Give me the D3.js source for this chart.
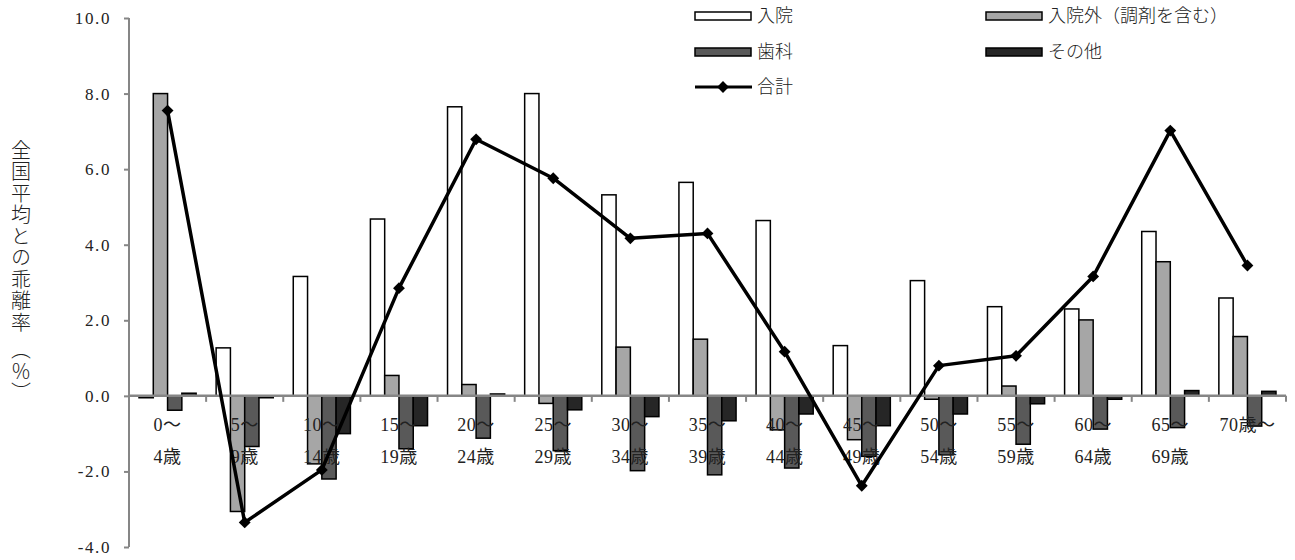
<!DOCTYPE html>
<html>
<head>
<meta charset="utf-8">
<script src="https://cdn.jsdelivr.net/npm/d3@7"></script>
<style>
  html, body { margin: 0; padding: 0; background: #fff; }
  svg { display: block; }
  svg text { font-family: "Liberation Serif", "DejaVu Serif", "Noto Sans CJK JP", serif; fill: #222; }
</style>
</head>
<body>
<svg id="chart" width="1295" height="560"></svg>
<script>
// ---- data ----
const labelLine1 = ["0～","5～","10～","15～","20～","25～","30～","35～","40～","45～","50～","55～","60～","65～","70歳～"];
const labelLine2 = ["4歳","9歳","14歳","19歳","24歳","29歳","34歳","39歳","44歳","49歳","54歳","59歳","64歳","69歳",""];
const seriesNames = ["入院","入院外（調剤を含む）","歯科","その他"];
const lineName = "合計";
const nyuin  = [-0.05, 1.27, 3.16, 4.68, 7.65, 8.00, 5.32, 5.65, 4.64, 1.33, 3.05, 2.36, 2.30, 4.35, 2.59];
const gairai = [ 8.00,-3.06,-1.80, 0.54, 0.30,-0.20, 1.29, 1.50,-0.90,-1.16,-0.09, 0.26, 2.01, 3.55, 1.57];
const shika  = [-0.38,-1.34,-2.20,-1.40,-1.12,-1.45,-1.98,-2.09,-1.91,-1.60,-1.56,-1.28,-0.88,-0.84,-0.80];
const sonota = [ 0.07,-0.05,-1.00,-0.79, 0.05,-0.37,-0.55,-0.66,-0.48,-0.79,-0.48,-0.21,-0.09, 0.14, 0.12];
const total  = [ 7.55,-3.35,-1.96, 2.85, 6.79, 5.76, 4.17, 4.30, 1.17,-2.38, 0.80, 1.06, 3.16, 7.02, 3.45];
const yTicks = [-4, -2, 0, 2, 4, 6, 8, 10];
const yTitle = "全国平均との乖離率 （％）";

(function () {
const seriesValues = [nyuin, gairai, shika, sonota];
const colors = ["#ffffff", "#a6a6a6", "#595959", "#262626"];
const cats = labelLine1.map((d, i) => i);
const serif = "'Liberation Serif', 'DejaVu Serif', 'Noto Sans CJK JP', serif";

const svg = d3.select("#chart");
const mLeft = 129, mRight = 1286, mTop = 18, mBottom = 547;

const x0 = d3.scaleBand().domain(cats).range([mLeft, mRight]).padding(0);
const x1 = d3.scaleBand().domain(d3.range(4)).range([0, x0.bandwidth()]).paddingInner(0).paddingOuter(0.7);
const y = d3.scaleLinear().domain([-4, 10]).range([mBottom, mTop]);

const axisColor = "#868686";

// y-axis title (vertical)
svg.append("text")
  .attr("x", 21).attr("y", 140)
  .style("writing-mode", "vertical-rl")
  .style("font-family", "'Noto Sans CJK JP', sans-serif")
  .style("font-size", "20px")
  .style("font-weight", "300")
  .style("letter-spacing", "1.5px")
  .attr("fill", "#333")
  .text(yTitle);

// y axis
const yAxis = svg.append("g").attr("transform", `translate(${mLeft},0)`)
  .call(d3.axisLeft(y).tickValues(yTicks).tickSize(5).tickPadding(13).tickFormat(d3.format(".1f")));
yAxis.attr("font-family", null);
yAxis.select(".domain").attr("stroke", axisColor).attr("stroke-width", 2).attr("d", `M0,${mTop}V${mBottom}`);
yAxis.selectAll(".tick line").attr("stroke", axisColor).attr("stroke-width", 2);
yAxis.selectAll(".tick text")
  .style("font-family", serif)
  .style("font-size", "17px")
  .style("letter-spacing", "1.6px")
  .attr("fill", "#333")
  .text(d => d < 0 ? "-" + d3.format(".1f")(-d) : d3.format(".1f")(d));

// bars
const barG = svg.append("g");
seriesValues.forEach((vals, s) => {
  barG.selectAll(null).data(vals).enter().append("rect")
    .attr("x", (d, i) => x0(i) + x1(s))
    .attr("width", x1.bandwidth())
    .attr("y", d => y(Math.max(0, d)))
    .attr("height", d => Math.abs(y(d) - y(0)))
    .attr("fill", colors[s])
    .attr("stroke", "#000")
    .attr("stroke-width", 1.5);
});

// x axis (zero line) with ticks at category boundaries
const xAxisG = svg.append("g");
xAxisG.append("line").attr("x1", mLeft).attr("x2", mRight).attr("y1", y(0)).attr("y2", y(0))
  .attr("stroke", axisColor).attr("stroke-width", 2.5);
const bounds = cats.map(i => x0(i) + x0.bandwidth());
xAxisG.selectAll(null).data(bounds).enter().append("line")
  .attr("x1", d => d).attr("x2", d => d).attr("y1", y(0)).attr("y2", y(0) + 6)
  .attr("stroke", axisColor).attr("stroke-width", 2);

// x labels (over bars)
const xl = svg.append("g");
cats.forEach(i => {
  const cx = x0(i) + x0.bandwidth() / 2;
  xl.append("text").attr("x", cx).attr("y", 431).attr("text-anchor", "middle")
    .style("font-family", serif)
    .style("font-size", "18px").style("letter-spacing", "0.5px").text(labelLine1[i]);
  if (labelLine2[i]) {
    xl.append("text").attr("x", cx).attr("y", 463).attr("text-anchor", "middle")
      .style("font-family", serif)
      .style("font-size", "18px").style("letter-spacing", "0.5px").text(labelLine2[i]);
  }
});

// line
const lineGen = d3.line().x((d, i) => x0(i) + x0.bandwidth() / 2).y(d => y(d));
svg.append("path").datum(total).attr("d", lineGen)
  .attr("fill", "none").attr("stroke", "#000").attr("stroke-width", 3.5).attr("stroke-linejoin", "round");
const sym = d3.symbol().type(d3.symbolSquare).size(70);
svg.selectAll(null).data(total).enter().append("path")
  .attr("d", sym)
  .attr("transform", (d, i) => `translate(${x0(i) + x0.bandwidth() / 2},${y(d)}) rotate(45)`)
  .attr("fill", "#000");

// legend
const legendItems = [
  {name: seriesNames[0], type: "bar", color: colors[0], x: 695, y: 16},
  {name: seriesNames[1], type: "bar", color: colors[1], x: 986, y: 16},
  {name: seriesNames[2], type: "bar", color: colors[2], x: 695, y: 52},
  {name: seriesNames[3], type: "bar", color: colors[3], x: 986, y: 52},
  {name: lineName, type: "line", x: 695, y: 87}
];
const lg = svg.append("g");
legendItems.forEach(it => {
  if (it.type === "bar") {
    lg.append("rect").attr("x", it.x).attr("y", it.y - 4).attr("width", 56).attr("height", 8)
      .attr("fill", it.color).attr("stroke", "#000").attr("stroke-width", 1.5);
  } else {
    lg.append("line").attr("x1", it.x).attr("x2", it.x + 57).attr("y1", it.y).attr("y2", it.y)
      .attr("stroke", "#000").attr("stroke-width", 3);
    lg.append("path").attr("d", sym).attr("transform", `translate(${it.x + 28},${it.y}) rotate(45)`).attr("fill", "#000");
  }
  lg.append("text").attr("x", it.x + 62).attr("y", it.y).attr("dy", "0.36em")
    .style("font-family", "'Noto Sans CJK JP', sans-serif")
    .style("font-weight", "300")
    .style("font-size", "18px").attr("fill", "#222").text(it.name);
});
})();
</script>
</body>
</html>
